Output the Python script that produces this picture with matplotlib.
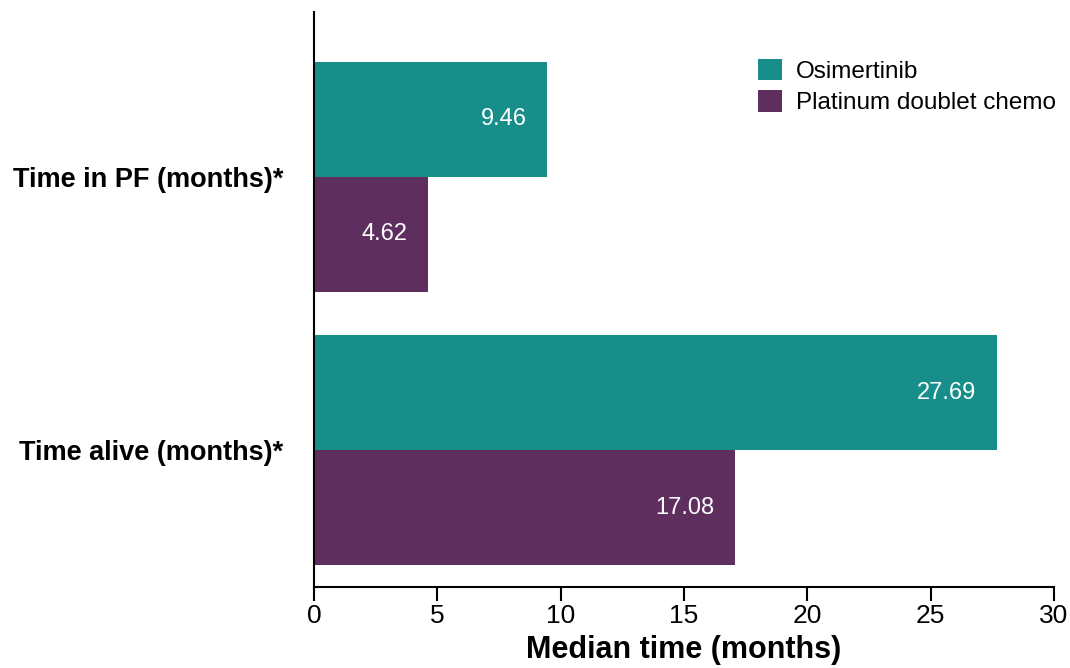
import matplotlib.pyplot as plt
import numpy as np

plt.rcParams['font.family'] = ['Liberation Sans', 'DejaVu Sans']

categories = ['Time alive (months)*', 'Time in PF (months)*']
osimertinib = [27.69, 9.46]
chemo = [17.08, 4.62]
series_names = ['Osimertinib', 'Platinum doublet chemo']
colors = ['#178e8a', '#5e2f5e']

fig = plt.figure(figsize=(10.7, 6.68), dpi=100)
ax = fig.add_axes([0.2935, 0.121, 0.6915, 0.861])

y = np.arange(len(categories))
h = 0.421
b1 = ax.barh(y + h / 2, osimertinib, height=h, color=colors[0], label=series_names[0])
b2 = ax.barh(y - h / 2, chemo, height=h, color=colors[1], label=series_names[1])

# value labels inside the bar ends
for bars, vals in [(b1, osimertinib), (b2, chemo)]:
    for bar, v in zip(bars, vals):
        ax.text(v - 0.85, bar.get_y() + bar.get_height() / 2, '%.2f' % v,
                color='white', fontsize=17, ha='right', va='center')

ax.set_xlim(0, 30)
ax.set_ylim(-0.502, 1.604)
ax.set_xticks(range(0, 31, 5))
ax.set_yticks(y)
ax.set_yticklabels(categories, fontsize=19.5, fontweight='bold')
ax.tick_params(axis='y', length=0, pad=22)
ax.tick_params(axis='x', labelsize=19, length=10, width=1.5, direction='out', pad=2)
ax.spines['top'].set_visible(False)
ax.spines['right'].set_visible(False)
ax.spines['left'].set_linewidth(1.5)
ax.spines['bottom'].set_linewidth(1.5)
ax.set_xlabel('Median time (months)', fontsize=22, fontweight='bold', labelpad=5)

ax.legend(loc='upper left', bbox_to_anchor=(0.688, 0.945), bbox_transform=fig.transFigure,
          frameon=False, fontsize=17.5, handlelength=1.0, handleheight=1.0,
          handletextpad=0.55, labelspacing=0.3)

fig.savefig('out.png', dpi=100)
